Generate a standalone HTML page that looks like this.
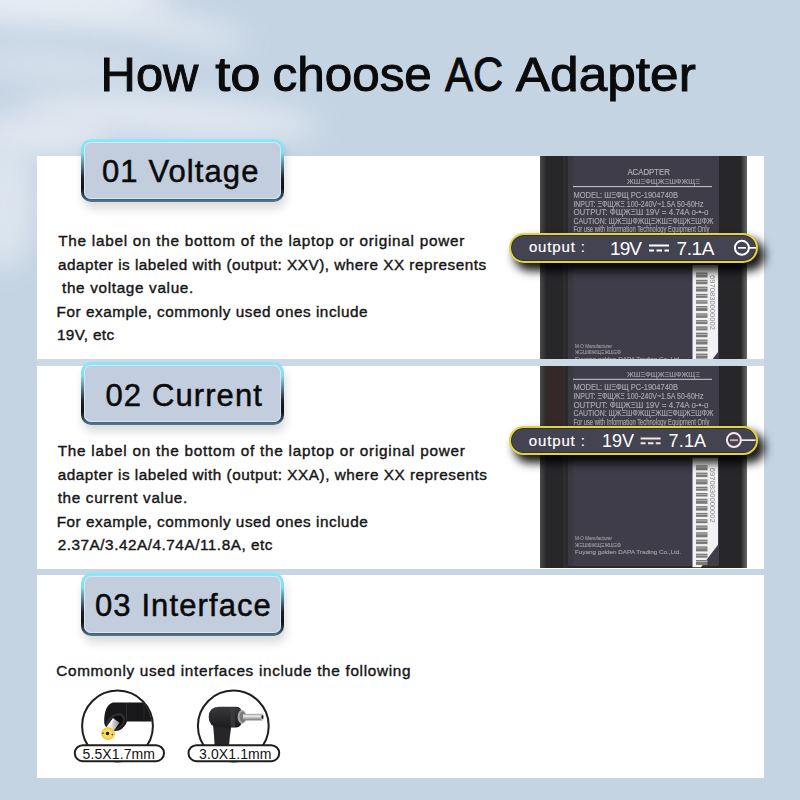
<!DOCTYPE html>
<html><head><meta charset="utf-8">
<style>
*{margin:0;padding:0;box-sizing:border-box;}
html,body{width:800px;height:800px;overflow:hidden;}
body{position:relative;font-family:"Liberation Sans",sans-serif;background:#c5d4e3;}
.bg{position:absolute;border-radius:50%;filter:blur(14px);}
.title{position:absolute;left:0;width:800px;top:41.5px;text-align:center;font-size:48px;letter-spacing:0.97px;color:#0b0b0b;line-height:66px;white-space:nowrap;-webkit-text-stroke:1px #0b0b0b;}
.panel{position:absolute;left:37px;width:727px;background:#fff;}
.tab{position:absolute;left:81px;width:203px;height:63px;border:3px solid transparent;border-radius:10px;
 background:linear-gradient(#c2cedd,#c2cedd) padding-box,
 linear-gradient(180deg,#8ae9f8 0%,#80def2 22%,#4a7088 45%,#1a2026 62%,#101316 78%,#2e4558 90%,#557a96 100%) border-box;
 box-shadow: inset 0 0 0 1px rgba(225,236,248,0.75), 2px 7px 10px rgba(0,0,0,0.14);
 font-size:31px;letter-spacing:1.1px;color:#0a0a0a;white-space:nowrap;-webkit-text-stroke:0.5px #0a0a0a;}
.tab span{position:absolute;line-height:30px;}
.txt{position:absolute;left:58px;font-size:15px;letter-spacing:0.72px;color:#161616;line-height:23.5px;white-space:pre;-webkit-text-stroke:0.55px #161616;}
.adps{position:absolute;left:540px;width:207px;display:block;}
.pill{position:absolute;border:2.8px solid #e3d23f;border-radius:15px;background:#444352;
 box-shadow: inset 0 0 0 1px rgba(30,30,20,0.45), 6px 7px 10px 1px rgba(0,0,0,0.9);}
.pill span{position:absolute;line-height:20px;}
.ic{position:absolute;}
.ln{position:absolute;font-size:15.3px;color:#161616;line-height:23.5px;white-space:pre;-webkit-text-stroke:0.4px #161616;}
</style></head><body>
<div class="bg" style="left:-60px;top:-25px;width:230px;height:50px;background:rgba(232,238,245,0.95);"></div>
<div class="bg" style="left:60px;top:10px;width:190px;height:26px;background:rgba(226,234,242,0.9);transform:rotate(12deg);"></div>
<div class="bg" style="left:-30px;top:55px;width:170px;height:22px;background:rgba(224,232,241,0.85);transform:rotate(3deg);"></div>
<div class="bg" style="left:20px;top:98px;width:300px;height:36px;background:rgba(228,235,243,0.95);transform:rotate(4deg);"></div>
<div class="bg" style="left:-30px;top:115px;width:140px;height:40px;background:rgba(228,235,243,0.9);"></div>
<div class="bg" style="left:-25px;top:140px;width:60px;height:130px;background:rgba(222,231,240,0.9);"></div>
<svg style="position:absolute;left:0;top:0;" width="800" height="120" viewBox="0 0 800 120"><g font-family="Liberation Sans" font-size="49" fill="#0b0b0b" stroke="#0b0b0b" stroke-width="1"><text x="100.61" y="90.8" textLength="97.78" lengthAdjust="spacingAndGlyphs">How</text><text x="215.20" y="90.8" textLength="45.39" lengthAdjust="spacingAndGlyphs">to</text><text x="272.48" y="90.8" textLength="159.38" lengthAdjust="spacingAndGlyphs">choose</text><text x="445.10" y="90.8" textLength="58.18" lengthAdjust="spacingAndGlyphs">AC</text><text x="515.80" y="90.8" textLength="180.03" lengthAdjust="spacingAndGlyphs">Adapter</text></g></svg>

<div style="position:absolute;left:37px;width:727px;top:358px;height:8px;background:#cddae5;"></div>
<div style="position:absolute;left:37px;width:727px;top:568px;height:7px;background:#c7d6e5;"></div>
<div class="panel" style="top:156px;height:202.5px;"></div>
<div class="panel" style="top:365.5px;height:203px;"></div>
<div class="panel" style="top:575px;height:203px;"></div>

<svg class="adps" style="top:156px;height:202.5px;" width="207" height="202.5" viewBox="0 0 207 202.5">
<defs><filter id="bl156" x="-5%" y="-5%" width="110%" height="110%"><feGaussianBlur stdDeviation="0.45"/></filter><linearGradient id="lg156" x1="0" x2="1"><stop offset="0" stop-color="#4a4a45"/><stop offset="1" stop-color="#2a2a2a"/></linearGradient><linearGradient id="rg156" x1="0" x2="1"><stop offset="0" stop-color="#2a2a2a"/><stop offset="1" stop-color="#6a6a6a"/></linearGradient></defs>
<rect x="0" y="-20" width="207" height="260" fill="#272729"/>
<rect x="0" y="-20" width="6" height="260" fill="url(#lg156)"/>
<rect x="201" y="-20" width="6" height="260" fill="url(#rg156)"/>
<rect x="23" y="-20" width="4" height="260" fill="#2e2e31"/>
<rect x="27" y="-20" width="152" height="237.5" rx="3" fill="#3e3d49"/>
<rect x="27" y="-20" width="6" height="237" fill="#38383e" opacity="0.8"/>
<rect x="26.5" y="-20" width="1" height="236" fill="#1f1f22"/>
<g filter="url(#bl156)">
<text x="87.4" y="19" font-size="8.4" font-family="Liberation Sans" fill="#b4b4ba" stroke="#b4b4ba" stroke-width="0.15" textLength="42.6" lengthAdjust="spacingAndGlyphs">ACADPTER</text>
<text x="87" y="28" font-size="6.8" font-family="Liberation Sans" fill="#b4b4ba" stroke="#b4b4ba" stroke-width="0.15" textLength="73" lengthAdjust="spacingAndGlyphs" opacity="0.85">ЖШΞФЩЖΞШФЖЩΞ</text>
<rect x="33" y="30" width="139" height="1.1" fill="#bdbdc2"/>
<text x="33.4" y="41.5" font-size="8.2" font-family="Liberation Sans" fill="#b4b4ba" stroke="#b4b4ba" stroke-width="0.15" textLength="104.6" lengthAdjust="spacingAndGlyphs" opacity="0.9">MODEL: ШΞФЩ  PC-1904740B</text>
<text x="33.4" y="50.5" font-size="8.2" font-family="Liberation Sans" fill="#b4b4ba" stroke="#b4b4ba" stroke-width="0.15" textLength="130" lengthAdjust="spacingAndGlyphs" opacity="0.9">INPUT: ΞФЩЖΞ 100-240V~1.5A 50-60Hz</text>
<text x="33.4" y="59" font-size="8.2" font-family="Liberation Sans" fill="#b4b4ba" stroke="#b4b4ba" stroke-width="0.15" textLength="135" lengthAdjust="spacingAndGlyphs" opacity="0.9">OUTPUT: ФЩЖΞШ 19V = 4.74A  o-•-o</text>
<text x="33.4" y="67.5" font-size="8.2" font-family="Liberation Sans" fill="#b4b4ba" stroke="#b4b4ba" stroke-width="0.15" textLength="140" lengthAdjust="spacingAndGlyphs" opacity="0.9">CAUTION: ЩЖΞШФЖЩΞЖШΞФЩЖΞШФЖ</text>
<text x="33.4" y="76" font-size="8.2" font-family="Liberation Sans" fill="#b4b4ba" stroke="#b4b4ba" stroke-width="0.15" textLength="136" lengthAdjust="spacingAndGlyphs" opacity="0.9">For use with Information Technology Equipment Only</text>
</g>
<path d="M152.5 109 H178 V196 L161 218.5 H152.5 Z" fill="#f2f2f2"/>
<g filter="url(#bl156)">
<rect x="156" y="116.5" width="11.5" height="5" fill="#7a7a7a"/>
<rect x="156" y="117.8" width="11.5" height="0.7" fill="#c8c8c8"/>
<rect x="156" y="123.8" width="11.5" height="4.5" fill="#7a7a7a"/>
<rect x="156" y="125.1" width="11.5" height="0.7" fill="#c8c8c8"/>
<rect x="156" y="130.6" width="11.5" height="5" fill="#7a7a7a"/>
<rect x="156" y="131.9" width="11.5" height="0.7" fill="#c8c8c8"/>
<rect x="156" y="137.9" width="11.5" height="4" fill="#7a7a7a"/>
<rect x="156" y="139.2" width="11.5" height="0.7" fill="#c8c8c8"/>
<rect x="156" y="144.2" width="11.5" height="3.5" fill="#7a7a7a"/>
<rect x="156" y="145.5" width="11.5" height="0.7" fill="#c8c8c8"/>
<rect x="156" y="150.0" width="11.5" height="5" fill="#7a7a7a"/>
<rect x="156" y="151.3" width="11.5" height="0.7" fill="#c8c8c8"/>
<rect x="156" y="157.3" width="11.5" height="4.5" fill="#7a7a7a"/>
<rect x="156" y="158.6" width="11.5" height="0.7" fill="#c8c8c8"/>
<rect x="156" y="164.1" width="11.5" height="4" fill="#7a7a7a"/>
<rect x="156" y="165.4" width="11.5" height="0.7" fill="#c8c8c8"/>
<rect x="156" y="170.4" width="11.5" height="4" fill="#7a7a7a"/>
<rect x="156" y="171.7" width="11.5" height="0.7" fill="#c8c8c8"/>
<rect x="156" y="176.7" width="11.5" height="4.5" fill="#7a7a7a"/>
<rect x="156" y="178.0" width="11.5" height="0.7" fill="#c8c8c8"/>
<rect x="156" y="183.5" width="11.5" height="5" fill="#7a7a7a"/>
<rect x="156" y="184.8" width="11.5" height="0.7" fill="#c8c8c8"/>
<rect x="156" y="190.8" width="11.5" height="4.5" fill="#7a7a7a"/>
<rect x="156" y="192.1" width="11.5" height="0.7" fill="#c8c8c8"/>
<rect x="156" y="197.6" width="11.5" height="5" fill="#7a7a7a"/>
<rect x="156" y="198.9" width="11.5" height="0.7" fill="#c8c8c8"/>
<rect x="156" y="204.9" width="11.5" height="4" fill="#7a7a7a"/>
<rect x="156" y="206.2" width="11.5" height="0.7" fill="#c8c8c8"/>
<rect x="156" y="211.2" width="11.5" height="5" fill="#7a7a7a"/>
<rect x="156" y="212.5" width="11.5" height="0.7" fill="#c8c8c8"/>
<text transform="translate(170.2,119) rotate(90)" font-size="7" font-family="Liberation Sans" fill="#8a8a8a" textLength="55" lengthAdjust="spacingAndGlyphs">6970830000002</text>
</g>
<g filter="url(#bl156)">
<text x="35" y="191.5" font-size="5.5" font-family="Liberation Sans" fill="#b4b4ba" stroke="#b4b4ba" stroke-width="0.15" textLength="37" lengthAdjust="spacingAndGlyphs" opacity="0.75">M-O Manufacturer</text>
<text x="35" y="198" font-size="5.5" font-family="Liberation Sans" fill="#b4b4ba" stroke="#b4b4ba" stroke-width="0.15" textLength="46" lengthAdjust="spacingAndGlyphs" opacity="0.75">ЖΞШФЖЩΞЖШΞФ</text>
<text x="35" y="205" font-size="5.5" font-family="Liberation Sans" fill="#b4b4ba" stroke="#b4b4ba" stroke-width="0.15" textLength="106" lengthAdjust="spacingAndGlyphs" opacity="0.8">Fuyang golden DAPA Trading Co.,Ltd.</text>
</g>
</svg>
<svg class="adps" style="top:365.5px;height:202px;" width="207" height="202" viewBox="0 17.2 207 202">
<defs><filter id="bl365" x="-5%" y="-5%" width="110%" height="110%"><feGaussianBlur stdDeviation="0.45"/></filter><linearGradient id="lg365" x1="0" x2="1"><stop offset="0" stop-color="#4a4a45"/><stop offset="1" stop-color="#2a2a2a"/></linearGradient><linearGradient id="rg365" x1="0" x2="1"><stop offset="0" stop-color="#2a2a2a"/><stop offset="1" stop-color="#6a6a6a"/></linearGradient></defs>
<rect x="0" y="-20" width="207" height="260" fill="#272729"/>
<rect x="0" y="-20" width="6" height="260" fill="url(#lg365)"/>
<rect x="201" y="-20" width="6" height="260" fill="url(#rg365)"/>
<rect x="23" y="-20" width="4" height="260" fill="#2e2e31"/>
<rect x="27" y="-20" width="152" height="237.5" rx="3" fill="#3e3d49"/>
<rect x="27" y="-20" width="6" height="237" fill="#38383e" opacity="0.8"/>
<rect x="26.5" y="-20" width="1" height="236" fill="#1f1f22"/>
<rect x="6" y="17" width="17" height="70" fill="#5a2a26" opacity="0.25"/>
<g filter="url(#bl365)">
<text x="87" y="28" font-size="6.8" font-family="Liberation Sans" fill="#b4b4ba" stroke="#b4b4ba" stroke-width="0.15" textLength="73" lengthAdjust="spacingAndGlyphs" opacity="0.85">ЖШΞФЩЖΞШФЖЩΞ</text>
<rect x="33" y="30" width="139" height="1.1" fill="#bdbdc2"/>
<text x="33.4" y="41.5" font-size="8.2" font-family="Liberation Sans" fill="#b4b4ba" stroke="#b4b4ba" stroke-width="0.15" textLength="104.6" lengthAdjust="spacingAndGlyphs" opacity="0.9">MODEL: ШΞФЩ  PC-1904740B</text>
<text x="33.4" y="50.5" font-size="8.2" font-family="Liberation Sans" fill="#b4b4ba" stroke="#b4b4ba" stroke-width="0.15" textLength="130" lengthAdjust="spacingAndGlyphs" opacity="0.9">INPUT: ΞФЩЖΞ 100-240V~1.5A 50-60Hz</text>
<text x="33.4" y="59" font-size="8.2" font-family="Liberation Sans" fill="#b4b4ba" stroke="#b4b4ba" stroke-width="0.15" textLength="135" lengthAdjust="spacingAndGlyphs" opacity="0.9">OUTPUT: ФЩЖΞШ 19V = 4.74A  o-•-o</text>
<text x="33.4" y="67.5" font-size="8.2" font-family="Liberation Sans" fill="#b4b4ba" stroke="#b4b4ba" stroke-width="0.15" textLength="140" lengthAdjust="spacingAndGlyphs" opacity="0.9">CAUTION: ЩЖΞШФЖЩΞЖШΞФЩЖΞШФЖ</text>
<text x="33.4" y="76" font-size="8.2" font-family="Liberation Sans" fill="#b4b4ba" stroke="#b4b4ba" stroke-width="0.15" textLength="136" lengthAdjust="spacingAndGlyphs" opacity="0.9">For use with Information Technology Equipment Only</text>
</g>
<path d="M152.5 109 H178 V196 L161 218.5 H152.5 Z" fill="#f2f2f2"/>
<g filter="url(#bl365)">
<rect x="156" y="116.5" width="11.5" height="5" fill="#7a7a7a"/>
<rect x="156" y="117.8" width="11.5" height="0.7" fill="#c8c8c8"/>
<rect x="156" y="123.8" width="11.5" height="4.5" fill="#7a7a7a"/>
<rect x="156" y="125.1" width="11.5" height="0.7" fill="#c8c8c8"/>
<rect x="156" y="130.6" width="11.5" height="5" fill="#7a7a7a"/>
<rect x="156" y="131.9" width="11.5" height="0.7" fill="#c8c8c8"/>
<rect x="156" y="137.9" width="11.5" height="4" fill="#7a7a7a"/>
<rect x="156" y="139.2" width="11.5" height="0.7" fill="#c8c8c8"/>
<rect x="156" y="144.2" width="11.5" height="3.5" fill="#7a7a7a"/>
<rect x="156" y="145.5" width="11.5" height="0.7" fill="#c8c8c8"/>
<rect x="156" y="150.0" width="11.5" height="5" fill="#7a7a7a"/>
<rect x="156" y="151.3" width="11.5" height="0.7" fill="#c8c8c8"/>
<rect x="156" y="157.3" width="11.5" height="4.5" fill="#7a7a7a"/>
<rect x="156" y="158.6" width="11.5" height="0.7" fill="#c8c8c8"/>
<rect x="156" y="164.1" width="11.5" height="4" fill="#7a7a7a"/>
<rect x="156" y="165.4" width="11.5" height="0.7" fill="#c8c8c8"/>
<rect x="156" y="170.4" width="11.5" height="4" fill="#7a7a7a"/>
<rect x="156" y="171.7" width="11.5" height="0.7" fill="#c8c8c8"/>
<rect x="156" y="176.7" width="11.5" height="4.5" fill="#7a7a7a"/>
<rect x="156" y="178.0" width="11.5" height="0.7" fill="#c8c8c8"/>
<rect x="156" y="183.5" width="11.5" height="5" fill="#7a7a7a"/>
<rect x="156" y="184.8" width="11.5" height="0.7" fill="#c8c8c8"/>
<rect x="156" y="190.8" width="11.5" height="4.5" fill="#7a7a7a"/>
<rect x="156" y="192.1" width="11.5" height="0.7" fill="#c8c8c8"/>
<rect x="156" y="197.6" width="11.5" height="5" fill="#7a7a7a"/>
<rect x="156" y="198.9" width="11.5" height="0.7" fill="#c8c8c8"/>
<rect x="156" y="204.9" width="11.5" height="4" fill="#7a7a7a"/>
<rect x="156" y="206.2" width="11.5" height="0.7" fill="#c8c8c8"/>
<rect x="156" y="211.2" width="11.5" height="5" fill="#7a7a7a"/>
<rect x="156" y="212.5" width="11.5" height="0.7" fill="#c8c8c8"/>
<text transform="translate(170.2,119) rotate(90)" font-size="7" font-family="Liberation Sans" fill="#8a8a8a" textLength="55" lengthAdjust="spacingAndGlyphs">6970830000002</text>
</g>
<g filter="url(#bl365)">
<text x="35" y="191.5" font-size="5.5" font-family="Liberation Sans" fill="#b4b4ba" stroke="#b4b4ba" stroke-width="0.15" textLength="37" lengthAdjust="spacingAndGlyphs" opacity="0.75">M-O Manufacturer</text>
<text x="35" y="198" font-size="5.5" font-family="Liberation Sans" fill="#b4b4ba" stroke="#b4b4ba" stroke-width="0.15" textLength="46" lengthAdjust="spacingAndGlyphs" opacity="0.75">ЖΞШФЖЩΞЖШΞФ</text>
<text x="35" y="205" font-size="5.5" font-family="Liberation Sans" fill="#b4b4ba" stroke="#b4b4ba" stroke-width="0.15" textLength="106" lengthAdjust="spacingAndGlyphs" opacity="0.8">Fuyang golden DAPA Trading Co.,Ltd.</text>
</g>
</svg>


<div class="tab" style="top:138.5px;"><span style="left:18px;top:15px;">01 Voltage</span></div>
<div class="tab" style="top:362px;"><span style="left:21.5px;top:15.5px;">02 Current</span></div>
<div class="tab" style="top:573px;"><span style="left:11px;top:15px;">03 Interface</span></div>

<div class="ln" style="top:229.00px;left:58.25px;letter-spacing:0.732px;">The label on the bottom of the laptop or original power</div>
<div class="ln" style="top:252.50px;left:58.00px;letter-spacing:0.500px;">adapter is labeled with (output: XXV), where XX represents</div>
<div class="ln" style="top:276.00px;left:62.00px;letter-spacing:0.667px;">the voltage value.</div>
<div class="ln" style="top:299.50px;left:56.60px;letter-spacing:0.532px;">For example, commonly used ones include</div>
<div class="ln" style="top:323.00px;left:57.00px;letter-spacing:0.333px;">19V, etc</div>
<div class="ln" style="top:439.40px;left:57.70px;letter-spacing:0.753px;">The label on the bottom of the laptop or original power</div>
<div class="ln" style="top:462.90px;left:57.70px;letter-spacing:0.518px;">adapter is labeled with (output: XXA), where XX represents</div>
<div class="ln" style="top:486.40px;left:57.70px;letter-spacing:0.668px;">the current value.</div>
<div class="ln" style="top:509.90px;left:56.70px;letter-spacing:0.532px;">For example, commonly used ones include</div>
<div class="ln" style="top:533.40px;left:57.70px;letter-spacing:0.531px;">2.37A/3.42A/4.74A/11.8A, etc</div>
<div class="ln" style="top:658.70px;left:56.25px;letter-spacing:0.692px;">Commonly used interfaces include the following</div>

<div class="pill" style="left:508.5px;top:233px;width:249.5px;height:30px;"></div>
<div class="pill" style="left:509px;top:425.6px;width:249px;height:29.4px;"></div>
<svg style="position:absolute;left:0;top:0;" width="800" height="800" viewBox="0 0 800 800">
 <g font-family="Liberation Sans" fill="#fff">
  <text x="528.9" y="251.8" font-size="15" stroke="#fff" stroke-width="0.2" textLength="56" lengthAdjust="spacing">output :</text>
  <text x="610" y="254.8" font-size="19" textLength="32" lengthAdjust="spacing">19V</text>
  <text x="676.5" y="254.9" font-size="19" textLength="38" lengthAdjust="spacing">7.1A</text>
  <rect x="649" y="244.5" width="20" height="2" />
  <rect x="649" y="249.5" width="5" height="2" /><rect x="656.5" y="249.5" width="5.5" height="2" /><rect x="664.5" y="249.5" width="4.5" height="2" />
  <circle cx="741.9" cy="247.8" r="7" fill="none" stroke="#fff" stroke-width="2"/>
  <rect x="738" y="247" width="8" height="1.7"/>
  <rect x="749" y="247" width="7" height="1.7"/>

  <text x="528.8" y="445.6" font-size="15" stroke="#fff" stroke-width="0.2" textLength="56" lengthAdjust="spacing">output :</text>
  <text x="602" y="447.25" font-size="18" textLength="32" lengthAdjust="spacing">19V</text>
  <text x="668.6" y="447.25" font-size="18" textLength="37.5" lengthAdjust="spacing">7.1A</text>
  <rect x="640.6" y="437.5" width="20" height="2" fill="#f6e4e0"/>
  <rect x="640.6" y="442.25" width="5" height="2" fill="#f6e4e0"/><rect x="648" y="442.25" width="5.5" height="2" fill="#f6e4e0"/><rect x="655.8" y="442.25" width="4.8" height="2" fill="#f6e4e0"/>
  <circle cx="733.9" cy="440.1" r="7" fill="none" stroke="#f7e6ea" stroke-width="2"/>
  <rect x="730" y="439.3" width="8" height="1.8" fill="#dcaab3"/>
  <rect x="741" y="439.3" width="14.6" height="1.7" fill="#f7e6ea"/>
 </g>
</svg>


<svg class="ic" style="left:60px;top:680px;" width="240" height="90" viewBox="60 680 240 90">
 <defs>
  <linearGradient id="pinA" x1="0" y1="0" x2="1" y2="0">
   <stop offset="0" stop-color="#9a9a9a"/><stop offset="0.4" stop-color="#f4f4f4"/><stop offset="1" stop-color="#8a8a8a"/>
  </linearGradient>
  <linearGradient id="pinB" x1="0" y1="0" x2="0" y2="1">
   <stop offset="0" stop-color="#9a9a9a"/><stop offset="0.35" stop-color="#eeeeee"/><stop offset="1" stop-color="#6f6f6f"/>
  </linearGradient>
  <linearGradient id="bodyB" x1="0" y1="0" x2="0" y2="1">
   <stop offset="0" stop-color="#3a3a3c"/><stop offset="0.5" stop-color="#2a2a2c"/><stop offset="1" stop-color="#1c1c1e"/>
  </linearGradient>
  <radialGradient id="yel" cx="0.5" cy="0.5" r="0.6">
   <stop offset="0" stop-color="#fae79a"/><stop offset="0.6" stop-color="#f4d54e"/><stop offset="1" stop-color="#e2b82a"/>
  </radialGradient>
  <clipPath id="cc1"><circle cx="117.5" cy="726" r="34.6"/></clipPath>
  <clipPath id="cc2"><circle cx="233.3" cy="726" r="34.6"/></clipPath>
 </defs>
 <!-- circle 1 -->
 <circle cx="117.5" cy="726" r="35.4" fill="#fff" stroke="#1e1e1e" stroke-width="2"/>
 <g clip-path="url(#cc1)">
  <path d="M113 702.5 L156 702.5 L156 721.5 L127 721.5 C125 727 120 731.5 115 731 C109 730.5 104 727 104.2 722 C104 714 106 704 113 702.5 Z" fill="#18181a"/>
  <path d="M126.5 703 V721.5" stroke="#2e2e30" stroke-width="1"/>
  <path d="M144 702.5 V721.5" stroke="#2a2a2c" stroke-width="0.8"/>
  <ellipse cx="115.5" cy="722" rx="10.8" ry="7.6" transform="rotate(-40 115.5 722)" fill="#2e2e30"/>
  <ellipse cx="115.8" cy="722.3" rx="8.2" ry="5.6" transform="rotate(-40 115.8 722.3)" fill="#0e0e10"/>
  <path d="M113 718 L119.5 722.8 L110.5 735.2 L104 730.4 Z" fill="url(#pinA)" transform="rotate(0)"/>
  <path d="M113.5 719 L106 729.5" stroke="#fdfdfd" stroke-width="1.5"/>
  <ellipse cx="108.1" cy="733.6" rx="7" ry="6.3" fill="url(#yel)"/>
  <circle cx="107.5" cy="733.5" r="1.8" fill="#2a1e08"/>
  <circle cx="103" cy="733.2" r="0.8" fill="#4a3408"/>
  <circle cx="112.3" cy="734.6" r="0.8" fill="#4a3408"/>
 </g>
 <!-- circle 2 -->
 <circle cx="233.3" cy="726" r="35.4" fill="#fff" stroke="#1e1e1e" stroke-width="2"/>
 <g clip-path="url(#cc2)">
  <path d="M213 725 L231.5 725 C230.5 732 229.5 738 229 748 L214.6 748 C214.5 740 213.8 732 213 725 Z" fill="#262628"/>
  <path d="M219 706.8 H237 Q241.5 707.5 241.5 712 V722.5 Q241 727 236.5 727.4 H219 Q208.7 727 208.7 717 Q208.7 707 219 706.8 Z" fill="url(#bodyB)"/>
  <rect x="230.6" y="707.5" width="4.4" height="19.5" fill="#3c3c3e" opacity="0.8"/>
  <ellipse cx="242" cy="716.9" rx="4.4" ry="7" fill="#a8a8a8"/>
  <ellipse cx="242.6" cy="716.9" rx="3" ry="5.4" fill="#7a7a7a"/>
  <rect x="243" y="713.8" width="19.5" height="6.6" fill="url(#pinB)"/>
  <ellipse cx="262.3" cy="717.1" rx="1.6" ry="3.3" fill="#cfcfcf"/>
  <ellipse cx="262.4" cy="717.1" rx="1" ry="2" fill="#222"/>
 </g>
 <!-- labels -->
 <rect x="74.8" y="745.2" width="89.2" height="16" rx="8" fill="#fff" stroke="#1e1e1e" stroke-width="2"/>
 <rect x="188.5" y="745.2" width="90.7" height="16" rx="8" fill="#fff" stroke="#1e1e1e" stroke-width="2"/>
 <text x="82.5" y="758.7" font-family="Liberation Sans" font-size="14" fill="#111" textLength="72.5" lengthAdjust="spacing">5.5X1.7mm</text>
 <text x="199" y="758.7" font-family="Liberation Sans" font-size="14" fill="#111" textLength="72.5" lengthAdjust="spacing">3.0X1.1mm</text>
</svg>


</body></html>
